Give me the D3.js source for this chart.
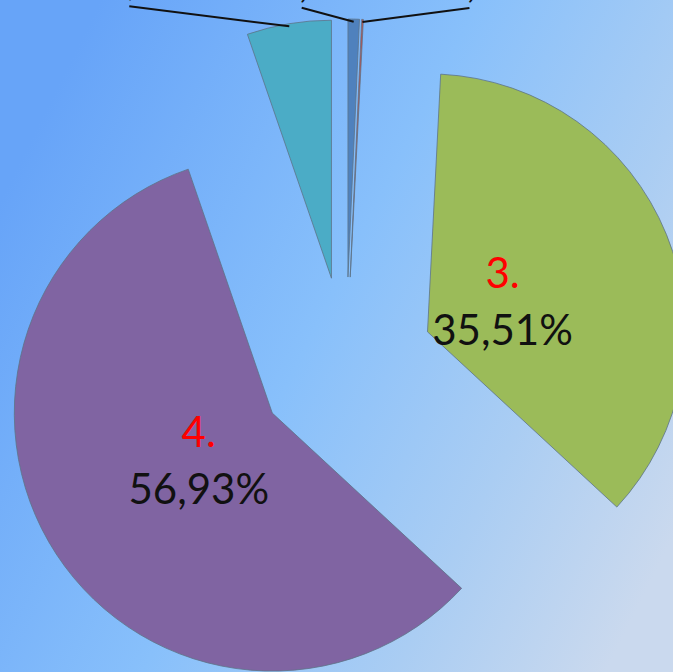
<!DOCTYPE html>
<html>
<head>
<meta charset="utf-8">
<script src="https://cdn.jsdelivr.net/npm/d3@7/dist/d3.min.js"></script>
<style>
  html, body { margin: 0; padding: 0; overflow: hidden; }
  svg { display: block; }
</style>
</head>
<body>
<svg id="chart" width="673" height="672"></svg>
<script>
// ---- data ----
const categories = ["1.", "2.", "3.", "4.", "5."];
const values = [0.70, 0.10, 35.51, 56.93, 5.20];
const valueLabels = ["0,70%", "0,10%", "35,51%", "56,93%", "5,20%"];
const colors = ["#4F81BD", "#C0504D", "#9BBB59", "#8064A2", "#4BACC6"];

// ---- layout ----
const W = 673, H = 672;
const cx = 346, cy = 365, R = 258, explode = 88;
const startDeg = 0;

const svg = d3.select("#chart");
const defs = svg.append("defs");
const grad = defs.append("linearGradient").attr("id", "bg")
  .attr("x1", "0").attr("y1", "0.3").attr("x2", "1").attr("y2", "0.8");
grad.append("stop").attr("offset", "0").attr("stop-color", "#67a4f8");
grad.append("stop").attr("offset", "0.45").attr("stop-color", "#88c0fb");
grad.append("stop").attr("offset", "0.75").attr("stop-color", "#aacdf3");
grad.append("stop").attr("offset", "1").attr("stop-color", "#cad9ee");
svg.append("rect").attr("width", W).attr("height", H).attr("fill", "url(#bg)");

const data = categories.map((c, i) => ({ cat: c, value: values[i], label: valueLabels[i], color: colors[i] }));

const a0 = startDeg * Math.PI / 180;
const pie = d3.pie().sort(null).value(d => d.value).startAngle(a0).endAngle(a0 + 2 * Math.PI);
const arcs = pie(data);
const arc = d3.arc().innerRadius(0).outerRadius(R);
const labelArc = d3.arc().innerRadius(0).outerRadius(R * 0.653);

function offset(d) {
  const m = (d.startAngle + d.endAngle) / 2;
  return [explode * Math.sin(m), -explode * Math.cos(m)];
}

const g = svg.append("g").attr("transform", `translate(${cx},${cy})`);

const slices = g.selectAll("g.slice").data(arcs).enter().append("g")
  .attr("class", "slice")
  .attr("transform", d => { const o = offset(d); return `translate(${o[0]},${o[1]})`; });

slices.append("path")
  .attr("d", arc)
  .attr("fill", d => d.data.color)
  .attr("stroke", "#5d7388")
  .attr("stroke-width", 0.8)
  .attr("stroke-linejoin", "round");

const font = "Lato, 'Open Sans', sans-serif";

// inside labels for big slices
slices.filter(d => d.data.value > 20).each(function(d) {
  const c = labelArc.centroid(d);
  const t = d3.select(this).append("text")
    .attr("text-anchor", "middle")
    .attr("font-family", font)
    .attr("font-size", 42);
  t.append("tspan").attr("x", c[0] - 3).attr("y", c[1] - 12).attr("fill", "#ff0000").text(d.data.cat);
  t.append("tspan").attr("x", c[0] - 3).attr("y", c[1] + 45).attr("fill", "#111111").text(d.data.label);
});

// leader lines for small slices (labels sit above the visible area)
const leaderShift = { "1.": [-52, -14], "2.": [107, -14], "5.": [-160, -20] };
slices.filter(d => d.data.value <= 20).each(function(d) {
  const m = (d.startAngle + d.endAngle) / 2;
  const rr = R * 0.99;
  const sx = rr * Math.sin(m), sy = -rr * Math.cos(m);
  const sh = leaderShift[d.data.cat];
  const ex = sx + sh[0], ey = sy + sh[1];
  const sel = d3.select(this);
  sel.append("line")
    .attr("x1", sx).attr("y1", sy).attr("x2", ex).attr("y2", ey)
    .attr("stroke", "#111111").attr("stroke-width", 2);
  const t = sel.append("text")
    .attr("text-anchor", "start")
    .attr("font-family", font)
    .attr("font-size", 42);
  t.append("tspan").attr("x", ex - 27).attr("y", ey - 68).attr("fill", "#ff0000").text(d.data.cat);
  t.append("tspan").attr("x", ex - 27).attr("y", ey - 11).attr("fill", "#111111").text(d.data.label);
});
</script>
</body>
</html>
